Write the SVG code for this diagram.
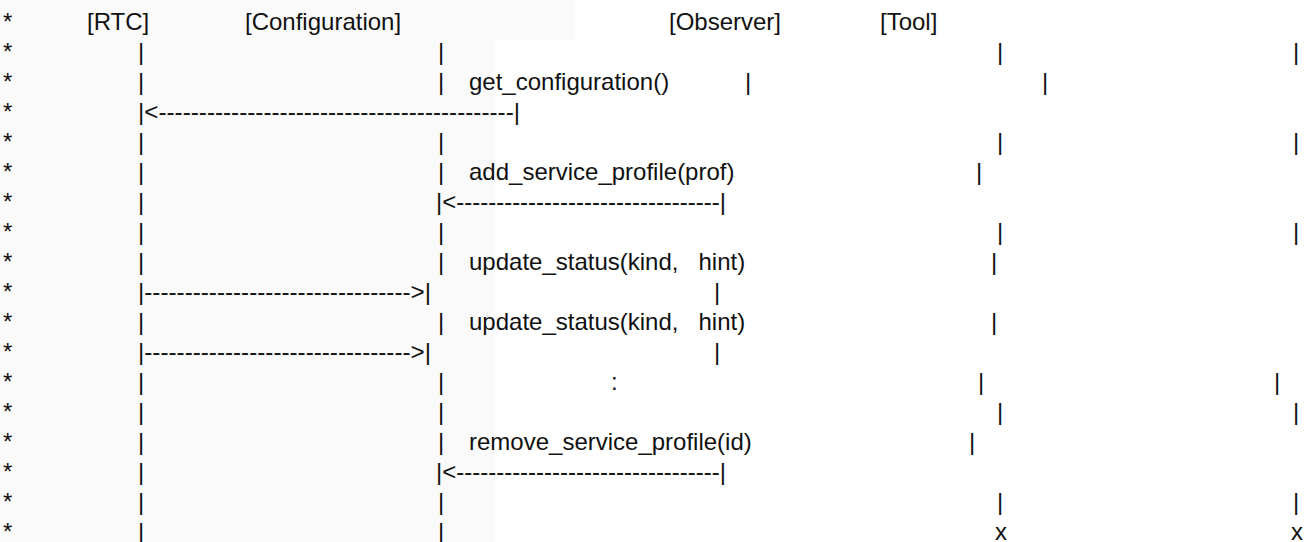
<svg xmlns="http://www.w3.org/2000/svg" width="1307" height="542" viewBox="0 0 1307 542">
<style>
text{font-family:"Liberation Sans",Arial,sans-serif;font-size:24px;fill:#111;white-space:pre}
</style>
<rect width="1307" height="542" fill="#ffffff"/>
<rect width="495" height="542" fill="#fafafa"/>
<rect width="575" height="40" fill="#fafafa"/>
<g id="stars">
<text x="3" y="30">*</text><text x="3" y="60">*</text><text x="3" y="90">*</text><text x="3" y="120">*</text><text x="3" y="150">*</text><text x="3" y="180">*</text><text x="3" y="210">*</text><text x="3" y="240">*</text><text x="3" y="270">*</text><text x="3" y="300">*</text><text x="3" y="330">*</text><text x="3" y="360">*</text><text x="3" y="390">*</text><text x="3" y="420">*</text><text x="3" y="450">*</text><text x="3" y="480">*</text><text x="3" y="510">*</text><text x="3" y="540">*</text>
</g>
<g id="node-rtc"><text x="87" y="30">[RTC]</text></g>
<g id="node-configuration"><text x="245" y="30">[Configuration]</text></g>
<g id="node-observer"><text x="669" y="30">[Observer]</text></g>
<g id="node-tool"><text x="880" y="30">[Tool]</text></g>
<g id="lifelines">
<text x="138" y="60">|</text><text x="438" y="60">|</text><text x="997" y="60">|</text><text x="1293" y="60">|</text>
<text x="138" y="90">|</text><text x="438" y="90">|</text><text x="745" y="90">|</text><text x="1042" y="90">|</text>
<text x="138" y="150">|</text><text x="438" y="150">|</text><text x="997" y="150">|</text><text x="1293" y="150">|</text>
<text x="138" y="180">|</text><text x="438" y="180">|</text><text x="976" y="180">|</text>
<text x="138" y="210">|</text>
<text x="138" y="240">|</text><text x="438" y="240">|</text><text x="997" y="240">|</text><text x="1293" y="240">|</text>
<text x="138" y="270">|</text><text x="438" y="270">|</text><text x="991" y="270">|</text>
<text x="714" y="300">|</text>
<text x="138" y="330">|</text><text x="438" y="330">|</text><text x="991" y="330">|</text>
<text x="714" y="360">|</text>
<text x="138" y="390">|</text><text x="438" y="390">|</text><text x="611" y="390">:</text><text x="978" y="390">|</text><text x="1274" y="390">|</text>
<text x="138" y="420">|</text><text x="438" y="420">|</text><text x="997" y="420">|</text><text x="1293" y="420">|</text>
<text x="138" y="450">|</text><text x="438" y="450">|</text><text x="969" y="450">|</text>
<text x="138" y="480">|</text>
<text x="138" y="510">|</text><text x="438" y="510">|</text><text x="997" y="510">|</text><text x="1293" y="510">|</text>
<text x="138" y="540">|</text><text x="438" y="540">|</text><text x="995" y="540">x</text><text x="1291" y="540">x</text>
</g>
<g id="connectors">
<text x="138" y="120" textLength="382" lengthAdjust="spacingAndGlyphs">|&lt;--------------------------------------------|</text>
<text x="436" y="210" textLength="290" lengthAdjust="spacingAndGlyphs">|&lt;---------------------------------|</text>
<text x="138" y="300" textLength="293" lengthAdjust="spacingAndGlyphs">|---------------------------------&gt;|</text>
<text x="138" y="360" textLength="293" lengthAdjust="spacingAndGlyphs">|---------------------------------&gt;|</text>
<text x="436" y="480" textLength="290" lengthAdjust="spacingAndGlyphs">|&lt;---------------------------------|</text>
</g>
<g id="labels">
<text x="469" y="90">get_configuration()</text>
<text x="469" y="180">add_service_profile(prof)</text>
<text x="469" y="270">update_status(kind,   hint)</text>
<text x="469" y="330">update_status(kind,   hint)</text>
<text x="469" y="450">remove_service_profile(id)</text>
</g>
</svg>
